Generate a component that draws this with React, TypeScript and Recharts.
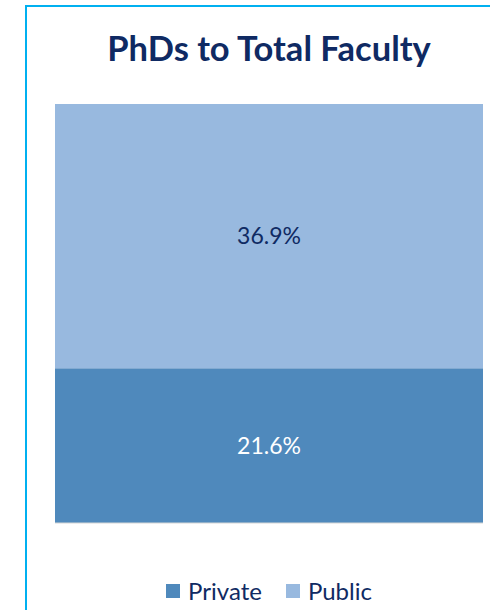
import { BarChart, Bar, XAxis, YAxis, Legend, LabelList } from "recharts";

const categories = ["PhDs to Total Faculty"];
const privateValues = [21.6];
const publicValues = [36.9];

const FONT = "Lato, 'Open Sans', sans-serif";
const NAVY = "#0f2a63";
const PRIVATE_COLOR = "#4f89bc";
const PUBLIC_COLOR = "#98b9df";

const data = categories.map((c, i) => ({
  name: c,
  Private: privateValues[i],
  Public: publicValues[i],
}));

const pct = (v: any) => `${Number(v).toFixed(1)}%`;

function LegendContent({ payload }: any) {
  return (
    <div style={{ display: "flex", justifyContent: "center", fontFamily: FONT, fontSize: 24, color: NAVY }}>
      {(payload || []).map((p: any, i: number) => (
        <div key={p.value} style={{ display: "flex", alignItems: "center", marginLeft: i ? 24 : 0 }}>
          <span style={{ width: 14, height: 14, background: p.color, display: "inline-block", marginRight: 8 }} />
          <span>{p.value}</span>
        </div>
      ))}
    </div>
  );
}

export default function App() {
  return (
    <div style={{ position: "absolute", left: 0, top: 0, width: 490, height: 610, overflow: "hidden", background: "#fff" }}>
      <div
        style={{
          position: "absolute",
          left: 25,
          top: 5,
          width: 500,
          height: 640,
          borderLeft: "2px solid #00b0f0",
          borderTop: "2px solid #00b0f0",
        }}
      />
      <div
        style={{
          position: "absolute",
          left: 55,
          width: 428,
          top: 27,
          textAlign: "center",
          fontFamily: FONT,
          fontWeight: 700,
          fontSize: 34.5,
          color: NAVY,
        }}
      >
        PhDs to Total Faculty
      </div>
      <div style={{ position: "absolute", left: 0, top: 0 }}>
        <BarChart
          width={490}
          height={610}
          data={data}
          margin={{ top: 104, right: 7, left: 55, bottom: 5 }}
          barCategoryGap={0}
        >
          <XAxis dataKey="name" tick={false} tickLine={false} axisLine={{ stroke: "#d6d6d6" }} height={1} />
          <YAxis hide domain={[0, "dataMax"]} />
          <Legend verticalAlign="bottom" wrapperStyle={{ paddingTop: 52 }} content={<LegendContent />} />
          <Bar dataKey="Private" stackId="a" fill={PRIVATE_COLOR} isAnimationActive={false}>
            <LabelList dataKey="Private" position="center" formatter={pct} fill="#ffffff" fontFamily={FONT} fontSize={23} />
          </Bar>
          <Bar dataKey="Public" stackId="a" fill={PUBLIC_COLOR} isAnimationActive={false}>
            <LabelList dataKey="Public" position="center" formatter={pct} fill={NAVY} fontFamily={FONT} fontSize={23} />
          </Bar>
        </BarChart>
      </div>
    </div>
  );
}
